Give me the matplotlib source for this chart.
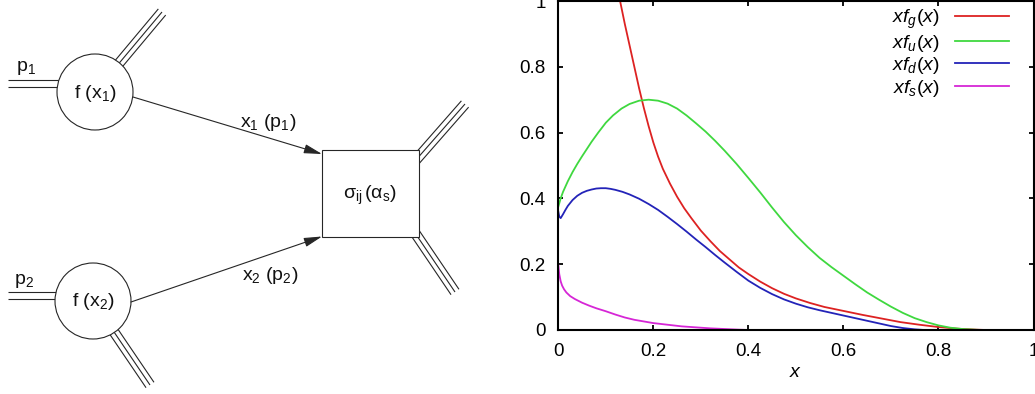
import numpy as np
import matplotlib
matplotlib.use("Agg")
import matplotlib.pyplot as plt
from matplotlib.patches import Circle, Rectangle

plt.rcParams['font.family'] = ['Liberation Sans', 'DejaVu Sans']
plt.rcParams['mathtext.fontset'] = 'custom'
plt.rcParams['mathtext.rm'] = 'Liberation Sans'
plt.rcParams['mathtext.it'] = 'Liberation Sans:italic'
plt.rcParams['mathtext.bf'] = 'Liberation Sans:bold'

# ---------------- data ----------------
x_g = [0.12, 0.13, 0.14, 0.15, 0.16, 0.17, 0.18, 0.19, 0.20, 0.21, 0.22, 0.235, 0.25, 0.265,
       0.28, 0.30, 0.32, 0.34, 0.36, 0.38, 0.40, 0.425, 0.45, 0.475, 0.50, 0.53, 0.56, 0.60,
       0.64, 0.68, 0.72, 0.76, 0.80, 0.84, 0.88, 0.90]
y_g = [1.07, 1.00, 0.93, 0.865, 0.80, 0.735, 0.675, 0.62, 0.57, 0.527, 0.49, 0.445, 0.405, 0.37,
       0.34, 0.302, 0.27, 0.24, 0.215, 0.19, 0.17, 0.147, 0.127, 0.11, 0.096, 0.082, 0.070, 0.058,
       0.046, 0.035, 0.024, 0.016, 0.009, 0.004, 0.001, 0.0]

x_u = [0.0, 0.005, 0.01, 0.02, 0.03, 0.04, 0.05, 0.06, 0.07, 0.084, 0.10, 0.115, 0.133, 0.15,
       0.17, 0.19, 0.21, 0.23, 0.25, 0.27, 0.29, 0.31, 0.33, 0.35, 0.375, 0.40, 0.425, 0.45,
       0.475, 0.50, 0.525, 0.55, 0.575, 0.60, 0.625, 0.65, 0.675, 0.70, 0.725, 0.75, 0.775,
       0.80, 0.825, 0.85, 0.875, 0.89]
y_u = [0.375, 0.40, 0.42, 0.452, 0.48, 0.505, 0.528, 0.55, 0.572, 0.60, 0.63, 0.652, 0.673, 0.687,
       0.697, 0.70, 0.697, 0.688, 0.673, 0.652, 0.628, 0.603, 0.575, 0.545, 0.505, 0.462, 0.418, 0.372,
       0.328, 0.288, 0.252, 0.219, 0.191, 0.165, 0.139, 0.114, 0.092, 0.071, 0.052, 0.036, 0.024,
       0.014, 0.007, 0.003, 0.001, 0.0]

x_d = [0.0, 0.002, 0.005, 0.01, 0.015, 0.02, 0.03, 0.04, 0.05, 0.06, 0.07, 0.08, 0.09, 0.10,
       0.11, 0.12, 0.135, 0.15, 0.17, 0.19, 0.21, 0.23, 0.25, 0.27, 0.29, 0.31, 0.33, 0.35,
       0.375, 0.40, 0.425, 0.45, 0.475, 0.50, 0.525, 0.55, 0.575, 0.60, 0.625, 0.65, 0.675,
       0.70, 0.725, 0.75, 0.77]
y_d = [0.36, 0.345, 0.34, 0.352, 0.365, 0.377, 0.395, 0.408, 0.417, 0.423, 0.427, 0.43, 0.431, 0.431,
       0.429, 0.426, 0.42, 0.412, 0.399, 0.383, 0.365, 0.344, 0.322, 0.299, 0.275, 0.252, 0.228, 0.205,
       0.177, 0.15, 0.128, 0.109, 0.093, 0.080, 0.069, 0.060, 0.052, 0.044, 0.036, 0.028, 0.020,
       0.012, 0.006, 0.002, 0.0]

x_s = [0.0, 0.002, 0.005, 0.008, 0.012, 0.017, 0.025, 0.035, 0.05, 0.065, 0.08, 0.10, 0.12, 0.14,
       0.16, 0.18, 0.20, 0.23, 0.26, 0.29, 0.32, 0.35, 0.38, 0.40]
y_s = [0.198, 0.17, 0.148, 0.135, 0.124, 0.114, 0.103, 0.094, 0.083, 0.074, 0.066, 0.057, 0.047, 0.038,
       0.031, 0.026, 0.021, 0.016, 0.011, 0.008, 0.005, 0.003, 0.001, 0.0]

series_labels = [r'$xf_g(x)$', r'$xf_u(x)$', r'$xf_d(x)$', r'$xf_s(x)$']
series_colors = ['#dd2222', '#3fd83f', '#2323b8', '#d626d6']
tick_vals = [0, 0.2, 0.4, 0.6, 0.8, 1]
tick_labels = ['0', '0.2', '0.4', '0.6', '0.8', '1']

# ---------------- figure ----------------
W, H = 1035, 394
fig = plt.figure(figsize=(W / 100, H / 100), dpi=100)

# ---- left: schematic diagram in pixel coordinates ----
axd = fig.add_axes([0, 0, 1, 1], zorder=0)
axd.set_xlim(0, W)
axd.set_ylim(H, 0)
axd.axis('off')

lc = '#262626'
lw = 0.8

circle1 = (95, 92)
circle2 = (93, 301)
radius = 38
box = (322, 150, 97, 87)


def multi_line(start, end, n, gap):
    s = np.array(start, float)
    e = np.array(end, float)
    d = (e - s) / np.linalg.norm(e - s)
    p = np.array([-d[1], d[0]])
    offs = (np.arange(n) - (n - 1) / 2) * gap
    for o in offs:
        a = s + p * o
        b = e + p * o
        axd.plot([a[0], b[0]], [a[1], b[1]], color=lc, lw=lw, zorder=1,
                 solid_capstyle='butt')


# incoming double lines
multi_line((8, 83.5), (circle1[0], 83.5), 2, 7)
multi_line((8, 295.5), (circle2[0], 295.5), 2, 7)
# outgoing triple lines from circles
multi_line(circle1, (162, 12), 3, 4.8)
multi_line(circle2, (150, 385), 3, 4.8)
# outgoing triple lines from box
multi_line((415, 161), (465, 104), 3, 4.8)
multi_line((411, 227), (455, 292), 3, 4.8)

for c in (circle1, circle2):
    axd.add_patch(Circle(c, radius, facecolor='white', edgecolor=lc, lw=lw, zorder=2))
axd.add_patch(Rectangle(box[:2], box[2], box[3], facecolor='white', edgecolor=lc, lw=lw, zorder=2))

arrow_style = dict(arrowstyle='-|>,head_length=1.1,head_width=0.28', color=lc, lw=lw,
                   mutation_scale=10, shrinkA=0, shrinkB=0)
axd.annotate('', xy=(322, 154), xytext=(133, 97), arrowprops=arrow_style, zorder=3)
axd.annotate('', xy=(322, 236.5), xytext=(131, 302), arrowprops=arrow_style, zorder=3)

tfs = 14
tc = '#111111'
axd.text(16, 68, r'$\mathrm{p_1}$', fontsize=tfs, ha='left', va='center', color=tc, zorder=4)
axd.text(14, 281, r'$\mathrm{p_2}$', fontsize=tfs, ha='left', va='center', color=tc, zorder=4)
axd.text(95, 93, r'$\mathrm{f\ (x_1)}$', fontsize=tfs, ha='center', va='center', color=tc, zorder=4)
axd.text(93, 302, r'$\mathrm{f\ (x_2)}$', fontsize=tfs, ha='center', va='center', color=tc, zorder=4)
axd.text(268, 122, r'$\mathrm{x_1\ (p_1)}$', fontsize=tfs, ha='center', va='center', color=tc, zorder=4)
axd.text(270, 275, r'$\mathrm{x_2\ (p_2)}$', fontsize=tfs, ha='center', va='center', color=tc, zorder=4)
axd.text(370, 195, r'$\mathrm{\sigma_{ij}\,(\alpha_s)}$', fontsize=tfs, ha='center', va='center',
         color=tc, zorder=4)

# ---- right: parton distributions ----
ax = fig.add_axes([558.3 / W, (H - 330) / H, (1033.5 - 558.3) / W, (330 - 1) / H], zorder=2)
for xs, ys, lab, col in zip([x_g, x_u, x_d, x_s], [y_g, y_u, y_d, y_s], series_labels, series_colors):
    ax.plot(xs, ys, color=col, lw=1.3, label=lab)

ax.set_xlim(0, 1)
ax.set_ylim(0, 1)
ax.set_xticks(tick_vals)
ax.set_xticklabels(tick_labels)
ax.set_yticks(tick_vals)
ax.set_yticklabels(tick_labels)
ax.tick_params(direction='in', length=3.6, width=1.3, labelsize=13.5, pad=9,
               top=True, right=True, colors='black')
for sp in ax.spines.values():
    sp.set_linewidth(1.5)
ax.set_xlabel(r'$x$', fontsize=14, labelpad=3)

leg = ax.legend(loc='upper right', bbox_to_anchor=(0.9485, 0.9795), frameon=False,
                markerfirst=False, fontsize=14, handlelength=2.8, handletextpad=0.75,
                labelspacing=0.08, borderpad=0, borderaxespad=0)

fig.savefig('out.png', dpi=100)
